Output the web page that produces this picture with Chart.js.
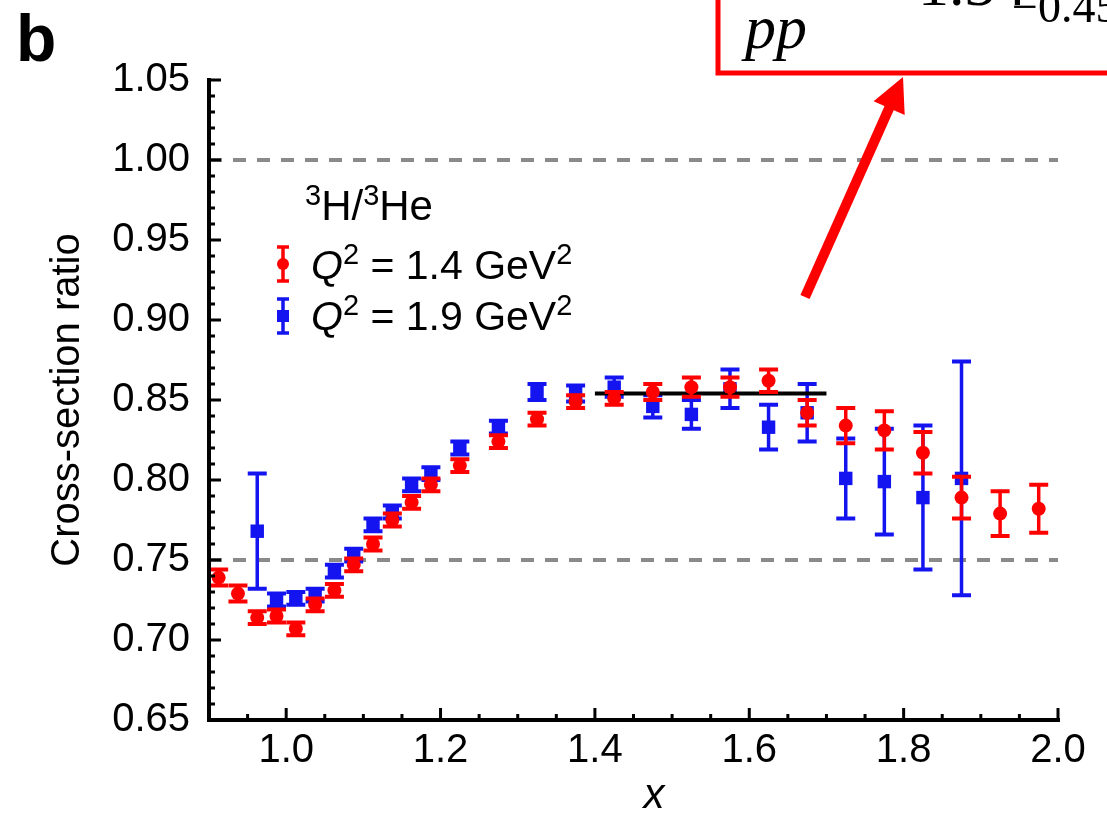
<!DOCTYPE html>
<html>
<head>
<meta charset="utf-8">
<script src="https://cdn.jsdelivr.net/npm/chart.js@4.4.1/dist/chart.umd.min.js"></script>
<style>
  html, body { margin: 0; padding: 0; background: #fff; }
  #wrap { width: 1107px; height: 818px; position: relative; overflow: hidden; }
</style>
</head>
<body>
<div id="wrap"><canvas id="ratioChart" width="1107" height="818"></canvas></div>
<script>
// 3H/3He ratio, Q2 = 1.4 GeV2 (red)
const xRed = [0.9125, 0.9375, 0.9625, 0.9875, 1.0125, 1.0375, 1.0625, 1.0875, 1.1125, 1.1375,
  1.1625, 1.1875, 1.225, 1.275, 1.325, 1.375, 1.425, 1.475, 1.525, 1.575,
  1.625, 1.675, 1.725, 1.775, 1.825, 1.875, 1.925, 1.975];
const yRed = [0.739, 0.729, 0.714, 0.715, 0.707, 0.722, 0.731, 0.747, 0.760, 0.775,
  0.786, 0.797, 0.809, 0.824, 0.838, 0.849, 0.851, 0.855, 0.858, 0.858,
  0.862, 0.842, 0.834, 0.831, 0.817, 0.789, 0.779, 0.782];
const errRed = [0.005, 0.005, 0.004, 0.004, 0.004, 0.004, 0.004, 0.004, 0.004, 0.004,
  0.004, 0.004, 0.004, 0.004, 0.004, 0.004, 0.004, 0.005, 0.006, 0.006,
  0.007, 0.008, 0.011, 0.012, 0.013, 0.013, 0.014, 0.015];

// Q2 = 1.9 GeV2 (blue)
const xBlue = [0.9625, 0.9875, 1.0125, 1.0375, 1.0625, 1.0875, 1.1125, 1.1375, 1.1625, 1.1875,
  1.225, 1.275, 1.325, 1.375, 1.425, 1.475, 1.525, 1.575, 1.625, 1.675,
  1.725, 1.775, 1.825, 1.875];
const yBlue = [0.768, 0.725, 0.726, 0.728, 0.743, 0.753, 0.772, 0.780, 0.797, 0.804,
  0.820, 0.833, 0.855, 0.854, 0.858, 0.846, 0.841, 0.857, 0.833, 0.842,
  0.801, 0.799, 0.789, 0.801];
const errBlue = [0.036, 0.004, 0.004, 0.004, 0.004, 0.004, 0.004, 0.004, 0.004, 0.004,
  0.004, 0.004, 0.005, 0.005, 0.006, 0.007, 0.009, 0.012, 0.014, 0.018,
  0.025, 0.033, 0.045, 0.073];

// flat fit over 1.4 < x < 1.7
const fitX = [1.4, 1.7];
const fitY = [0.854, 0.854];

// dashed reference lines
const refX = [0.9, 2.0];
const refHigh = [1.0, 1.0];
const refLow = [0.75, 0.75];

// axis ticks
const xMajorTicks = [1.0, 1.2, 1.4, 1.6, 1.8, 2.0];
const yMajorTicks = [0.65, 0.70, 0.75, 0.80, 0.85, 0.90, 0.95, 1.00, 1.05];

const RED = '#ff0000';
const BLUE = '#1414f0';
const SANS = '"Liberation Sans", Arial, Helvetica, sans-serif';
const SERIF = '"Liberation Serif", "Times New Roman", serif';

function toPoints(xs, ys) {
  return xs.map((x, i) => ({ x: x, y: ys[i] }));
}

// error bars, drawn just before each dataset so markers sit on top
const errorBarPlugin = {
  id: 'errorBars',
  beforeDatasetDraw(chart, args) {
    const ds = chart.data.datasets[args.index];
    if (!ds.errors) return;
    const ctx = chart.ctx;
    const yScale = chart.scales.y;
    ctx.save();
    ctx.strokeStyle = ds.borderColor;
    args.meta.data.forEach((pt, i) => {
      const v = ds.data[i].y;
      const e = ds.errors[i];
      const yTop = yScale.getPixelForValue(v + e);
      const yBot = yScale.getPixelForValue(v - e);
      ctx.lineWidth = 3.5;
      ctx.beginPath();
      ctx.moveTo(pt.x, yTop);
      ctx.lineTo(pt.x, yBot);
      ctx.stroke();
      ctx.lineWidth = 4;
      ctx.beginPath();
      ctx.moveTo(pt.x - 9.5, yTop);
      ctx.lineTo(pt.x + 9.5, yTop);
      ctx.moveTo(pt.x - 9.5, yBot);
      ctx.lineTo(pt.x + 9.5, yBot);
      ctx.stroke();
    });
    ctx.restore();
  }
};

// draws runs of text with superscripts / italics
function drawRuns(ctx, x, y, runs, size) {
  runs.forEach(r => {
    const fs = r.sup ? Math.round(size * 0.7) : size;
    ctx.font = (r.italic ? 'italic ' : '') + fs + 'px ' + SANS;
    const dy = r.sup ? -size * 0.36 : 0;
    ctx.fillText(r.t, x, y + dy);
    x += ctx.measureText(r.t).width;
  });
}

function legendMarker(ctx, x, y, color, square) {
  ctx.save();
  ctx.strokeStyle = color;
  ctx.fillStyle = color;
  ctx.lineWidth = 3.5;
  ctx.beginPath();
  ctx.moveTo(x, y - 17);
  ctx.lineTo(x, y + 17);
  ctx.moveTo(x - 6, y - 17);
  ctx.lineTo(x + 6, y - 17);
  ctx.moveTo(x - 6, y + 17);
  ctx.lineTo(x + 6, y + 17);
  ctx.stroke();
  if (square) {
    ctx.fillRect(x - 6, y - 6, 12, 12);
  } else {
    ctx.beginPath();
    ctx.arc(x, y, 6, 0, Math.PI * 2);
    ctx.fill();
  }
  ctx.restore();
}

const decorPlugin = {
  id: 'decor',
  afterDraw(chart) {
    const ctx = chart.ctx;
    const area = chart.chartArea;
    const xs = chart.scales.x;
    const ys = chart.scales.y;
    ctx.save();

    // axes, inward ticks
    ctx.strokeStyle = '#000';
    ctx.lineWidth = 4;
    ctx.beginPath();
    ctx.moveTo(area.left, area.top - 2);
    ctx.lineTo(area.left, area.bottom);
    ctx.lineTo(area.right + 2, area.bottom);
    ctx.stroke();

    ctx.lineWidth = 3;
    ctx.beginPath();
    for (let k = 0; k <= 40; k++) {
      const v = 0.65 + k * 0.01;
      const py = ys.getPixelForValue(v);
      const len = (k % 5 === 0) ? 12 : 6;
      ctx.moveTo(area.left, py);
      ctx.lineTo(area.left + len, py);
    }
    for (let k = 1; k <= 22; k++) {
      const v = 0.9 + k * 0.05;
      const px = xs.getPixelForValue(v);
      const len = (k % 4 === 2) ? 12 : 6;
      ctx.moveTo(px, area.bottom);
      ctx.lineTo(px, area.bottom - len);
    }
    ctx.stroke();

    // axis titles
    ctx.fillStyle = '#000';
    ctx.save();
    ctx.translate(68, (area.top + area.bottom) / 2);
    ctx.rotate(-Math.PI / 2);
    ctx.font = '40px ' + SANS;
    ctx.textAlign = 'center';
    ctx.textBaseline = 'middle';
    ctx.fillText('Cross-section ratio', 0, 0);
    ctx.restore();

    ctx.font = 'italic 42px ' + SANS;
    ctx.textAlign = 'center';
    ctx.textBaseline = 'alphabetic';
    ctx.fillText('x', 654, 808);

    // panel letter
    ctx.textAlign = 'left';
    ctx.font = 'bold 66px ' + SANS;
    ctx.fillText('b', 16, 61);

    // legend
    drawRuns(ctx, 305, 220, [
      { t: '3', sup: true }, { t: 'H/' }, { t: '3', sup: true }, { t: 'He' }
    ], 42);
    legendMarker(ctx, 283, 264, RED, false);
    drawRuns(ctx, 311, 279, [
      { t: 'Q', italic: true }, { t: '2', sup: true }, { t: ' = 1.4 GeV' }, { t: '2', sup: true }
    ], 41);
    legendMarker(ctx, 283, 316, BLUE, true);
    drawRuns(ctx, 311, 330, [
      { t: 'Q', italic: true }, { t: '2', sup: true }, { t: ' = 1.9 GeV' }, { t: '2', sup: true }
    ], 41);

    // red call-out box with arrow
    ctx.strokeStyle = RED;
    ctx.lineWidth = 5;
    ctx.strokeRect(718, -20, 420, 93);
    ctx.fillStyle = '#000';
    ctx.font = 'italic 62px ' + SERIF;
    ctx.fillText('pp', 745, 48);
    ctx.font = '62px ' + SERIF;
    ctx.fillText('1.34', 918, 5);
    ctx.font = '46px ' + SERIF;
    ctx.fillText('\u22120.45', 1012, 22);

    const tail = { x: 805, y: 297 };
    const tip = { x: 903, y: 77 };
    const dx = tip.x - tail.x, dy = tip.y - tail.y;
    const L = Math.hypot(dx, dy);
    const ux = dx / L, uy = dy / L;
    const bx = tip.x - 34 * ux, by = tip.y - 34 * uy;
    ctx.lineWidth = 10;
    ctx.lineCap = 'butt';
    ctx.beginPath();
    ctx.moveTo(tail.x, tail.y);
    ctx.lineTo(bx + 4 * ux, by + 4 * uy);
    ctx.stroke();
    ctx.fillStyle = RED;
    ctx.beginPath();
    ctx.moveTo(tip.x, tip.y);
    ctx.lineTo(bx - 17 * uy, by + 17 * ux);
    ctx.lineTo(bx + 17 * uy, by - 17 * ux);
    ctx.closePath();
    ctx.fill();

    ctx.restore();
  }
};

const tickFont = { family: SANS, size: 40, lineHeight: 1 };

const config = {
  type: 'scatter',
  data: {
    datasets: [
      {
        label: 'Q2 = 1.4 GeV2',
        data: toPoints(xRed, yRed),
        errors: errRed,
        borderColor: RED,
        backgroundColor: RED,
        pointStyle: 'circle',
        pointRadius: 7,
        borderWidth: 0,
        order: 0
      },
      {
        label: 'fit',
        data: toPoints(fitX, fitY),
        showLine: true,
        borderColor: '#000',
        borderWidth: 4,
        pointRadius: 0,
        order: 1
      },
      {
        label: 'Q2 = 1.9 GeV2',
        data: toPoints(xBlue, yBlue),
        errors: errBlue,
        borderColor: BLUE,
        backgroundColor: BLUE,
        pointStyle: 'rect',
        pointRadius: 9.5,
        borderWidth: 0,
        order: 2
      },
      {
        label: 'ratio 1.00',
        data: toPoints(refX, refHigh),
        showLine: true,
        borderColor: '#8a8a8a',
        borderWidth: 4,
        borderDash: [13, 11],
        pointRadius: 0,
        order: 3
      },
      {
        label: 'ratio 0.75',
        data: toPoints(refX, refLow),
        showLine: true,
        borderColor: '#8a8a8a',
        borderWidth: 4,
        borderDash: [13, 11],
        pointRadius: 0,
        order: 4
      }
    ]
  },
  options: {
    responsive: false,
    animation: false,
    devicePixelRatio: 1,
    layout: { padding: { top: 80, right: 49, bottom: 0, left: 0 } },
    plugins: {
      legend: { display: false },
      tooltip: { enabled: false }
    },
    scales: {
      x: {
        type: 'linear',
        min: 0.9,
        max: 2.0,
        grid: { display: false, drawTicks: false },
        border: { display: false },
        afterFit: s => { s.height = 98; },
        afterBuildTicks: s => { s.ticks = xMajorTicks.map(v => ({ value: v })); },
        ticks: {
          font: tickFont,
          color: '#000',
          padding: 11,
          maxRotation: 0,
          autoSkip: false,
          callback: v => v.toFixed(1)
        }
      },
      y: {
        type: 'linear',
        min: 0.65,
        max: 1.05,
        grid: { display: false, drawTicks: false },
        border: { display: false },
        afterFit: s => { s.width = 209; },
        afterBuildTicks: s => { s.ticks = yMajorTicks.map(v => ({ value: v })); },
        ticks: {
          font: tickFont,
          color: '#000',
          padding: 19,
          autoSkip: false,
          callback: v => v.toFixed(2)
        }
      }
    }
  },
  plugins: [errorBarPlugin, decorPlugin]
};

window.onload = function() {
  new Chart(document.getElementById('ratioChart').getContext('2d'), config);
};
</script>
</body>
</html>
